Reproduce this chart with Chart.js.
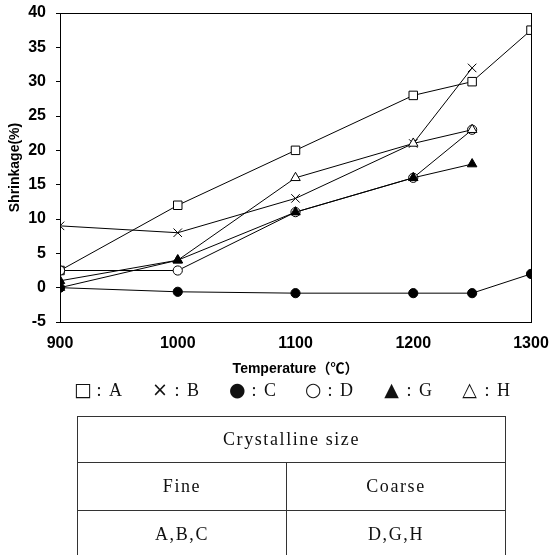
<!DOCTYPE html>
<html>
<head>
<meta charset="utf-8">
<script src="https://cdn.jsdelivr.net/npm/chart.js@4/dist/chart.umd.min.js"></script>
<style>
  body { margin: 0; background: #fff; }
  #wrap { position: relative; width: 551px; height: 555px; overflow: hidden; }
  #grafico { position: absolute; left: 0; top: 0; }
  .leg { position: absolute; top: 378px; height: 24px; line-height: 24px; font: 18px "Liberation Serif", "DejaVu Serif", serif; white-space: nowrap; color: #111; }
  .leg .sim { display: inline-block; width: 15px; text-align: center; font: 19px "DejaVu Sans", sans-serif; }
  .leg .due { display: inline-block; width: 20px; text-align: center; }
  #tab { position: absolute; left: 77px; top: 416px; border-collapse: collapse; font: 18px "Liberation Serif", serif; letter-spacing: 1.6px; color: #111; }
  #tab td { border: 1px solid #333; text-align: center; padding: 0; }
</style>
</head>
<body>
<div id="wrap">
  <canvas id="grafico" width="551" height="384"></canvas>
  <div id="legenda"></div>
  <table id="tab">
    <tr style="height:46px"><td colspan="2" id="hdr"></td></tr>
    <tr style="height:48px"><td style="width:208px" id="c1"></td><td style="width:218px" id="c2"></td></tr>
    <tr style="height:48px"><td id="c3"></td><td id="c4"></td></tr>
  </table>
</div>
<script>
// temperature (°C)
const tempi = [900, 1000, 1100, 1200, 1250, 1300];
const tempiCorti = [900, 1000, 1100, 1200, 1250];

// shrinkage (%)
const serieA = [2.5, 12, 20, 28, 30, 37.5];
const serieB = [9, 8, 13, 21, 32];
const serieC = [0, -0.6, -0.8, -0.8, -0.8, 2];
const serieD = [2.5, 2.5, 11, 16, 23];
const serieG = [1, 4, 11, 16, 18];
const serieH = [0, 4, 16, 21, 23];

const simboli = ["□", "×", "●", "○", "▲", "△"];
const nomi = ["A", "B", "C", "D", "G", "H"];
const legX = [74, 152, 229, 305, 384, 462];

const tabella = ["Crystalline size", "Fine", "Coarse", "A,B,C", "D,G,H"];

function punti(xs, ys) {
    return ys.map((y, i) => ({ x: xs[i], y: y }));
}

function serie(label, xs, ys, stile, riempi, raggio) {
    return {
        label: label,
        data: punti(xs, ys),
        borderColor: '#000',
        borderWidth: 1,
        pointStyle: stile,
        pointRadius: raggio,
        pointBorderWidth: 1,
        pointBorderColor: '#000',
        pointBackgroundColor: riempi,
        fill: false,
        tension: 0
    };
}

// cornice sopra e a destra
const cornice = {
    id: 'cornice',
    afterDraw(c) {
        const a = c.chartArea;
        const ctx = c.ctx;
        ctx.save();
        ctx.strokeStyle = '#000';
        ctx.lineWidth = 1;
        ctx.strokeRect(a.left + 0.5, a.top + 0.5, a.right - a.left, a.bottom - a.top);
        ctx.restore();
    }
};

document.addEventListener("DOMContentLoaded", function () {
    const leg = document.getElementById("legenda");
    simboli.forEach((s, i) => {
        const d = document.createElement("div");
        d.className = "leg";
        d.style.left = legX[i] + "px";
        d.innerHTML = '<span class="sim">' + s + '</span><span class="due">:</span>' + nomi[i];
        leg.appendChild(d);
    });
    ["hdr", "c1", "c2", "c3", "c4"].forEach((id, i) => {
        document.getElementById(id).textContent = tabella[i];
    });

    const ctx = document.getElementById("grafico").getContext("2d");
    new Chart(ctx, {
        type: 'line',
        data: {
            datasets: [
                serie('C', tempi, serieC, 'circle', '#000', 4.6),
                serie('G', tempiCorti, serieG, 'triangle', '#000', 5.5),
                serie('H', tempiCorti, serieH, 'triangle', '#fff', 5.5),
                serie('D', tempiCorti, serieD, 'circle', '#fff', 4.6),
                serie('B', tempiCorti, serieB, 'crossRot', '#fff', 6),
                serie('A', tempi, serieA, 'rect', '#fff', 6)
            ]
        },
        options: {
            responsive: false,
            animation: false,
            layout: { padding: { top: 13, right: 20, left: 0, bottom: 0 } },
            plugins: { legend: { display: false }, tooltip: { enabled: false } },
            scales: {
                x: {
                    type: 'linear',
                    min: 900,
                    max: 1300,
                    afterFit: function (s) {
                        s.height = 62;
                        s.paddingLeft = 0;
                        s.paddingRight = 0;
                    },
                    ticks: {
                        stepSize: 100,
                        color: '#000',
                        padding: 12,
                        callback: (v) => String(v),
                        font: { family: 'Liberation Sans', size: 16, weight: 'bold' }
                    },
                    grid: { drawOnChartArea: false, drawTicks: false },
                    border: { color: '#000', width: 1 },
                    title: {
                        display: true,
                        text: 'Temperature（℃）',
                        color: '#000',
                        padding: { top: 0, bottom: 6 },
                        font: { family: "'Liberation Sans', 'Noto Sans CJK JP'", size: 14, weight: 'bold' }
                    }
                },
                y: {
                    min: -5,
                    max: 40,
                    afterFit: function (s) {
                        s.width = 60;
                        s.paddingTop = 0;
                        s.paddingBottom = 0;
                    },
                    ticks: {
                        stepSize: 5,
                        color: '#000',
                        padding: 10,
                        callback: (v) => String(v),
                        font: { family: 'Liberation Sans', size: 16, weight: 'bold' }
                    },
                    grid: { drawOnChartArea: false, tickLength: 4, color: '#000' },
                    border: { color: '#000', width: 1 },
                    title: {
                        display: true,
                        text: 'Shrinkage(%)',
                        color: '#000',
                        padding: { top: 7, bottom: 0 },
                        font: { family: 'Liberation Sans', size: 14, weight: 'bold' }
                    }
                }
            }
        },
        plugins: [cornice]
    });
});
</script>
</body>
</html>
